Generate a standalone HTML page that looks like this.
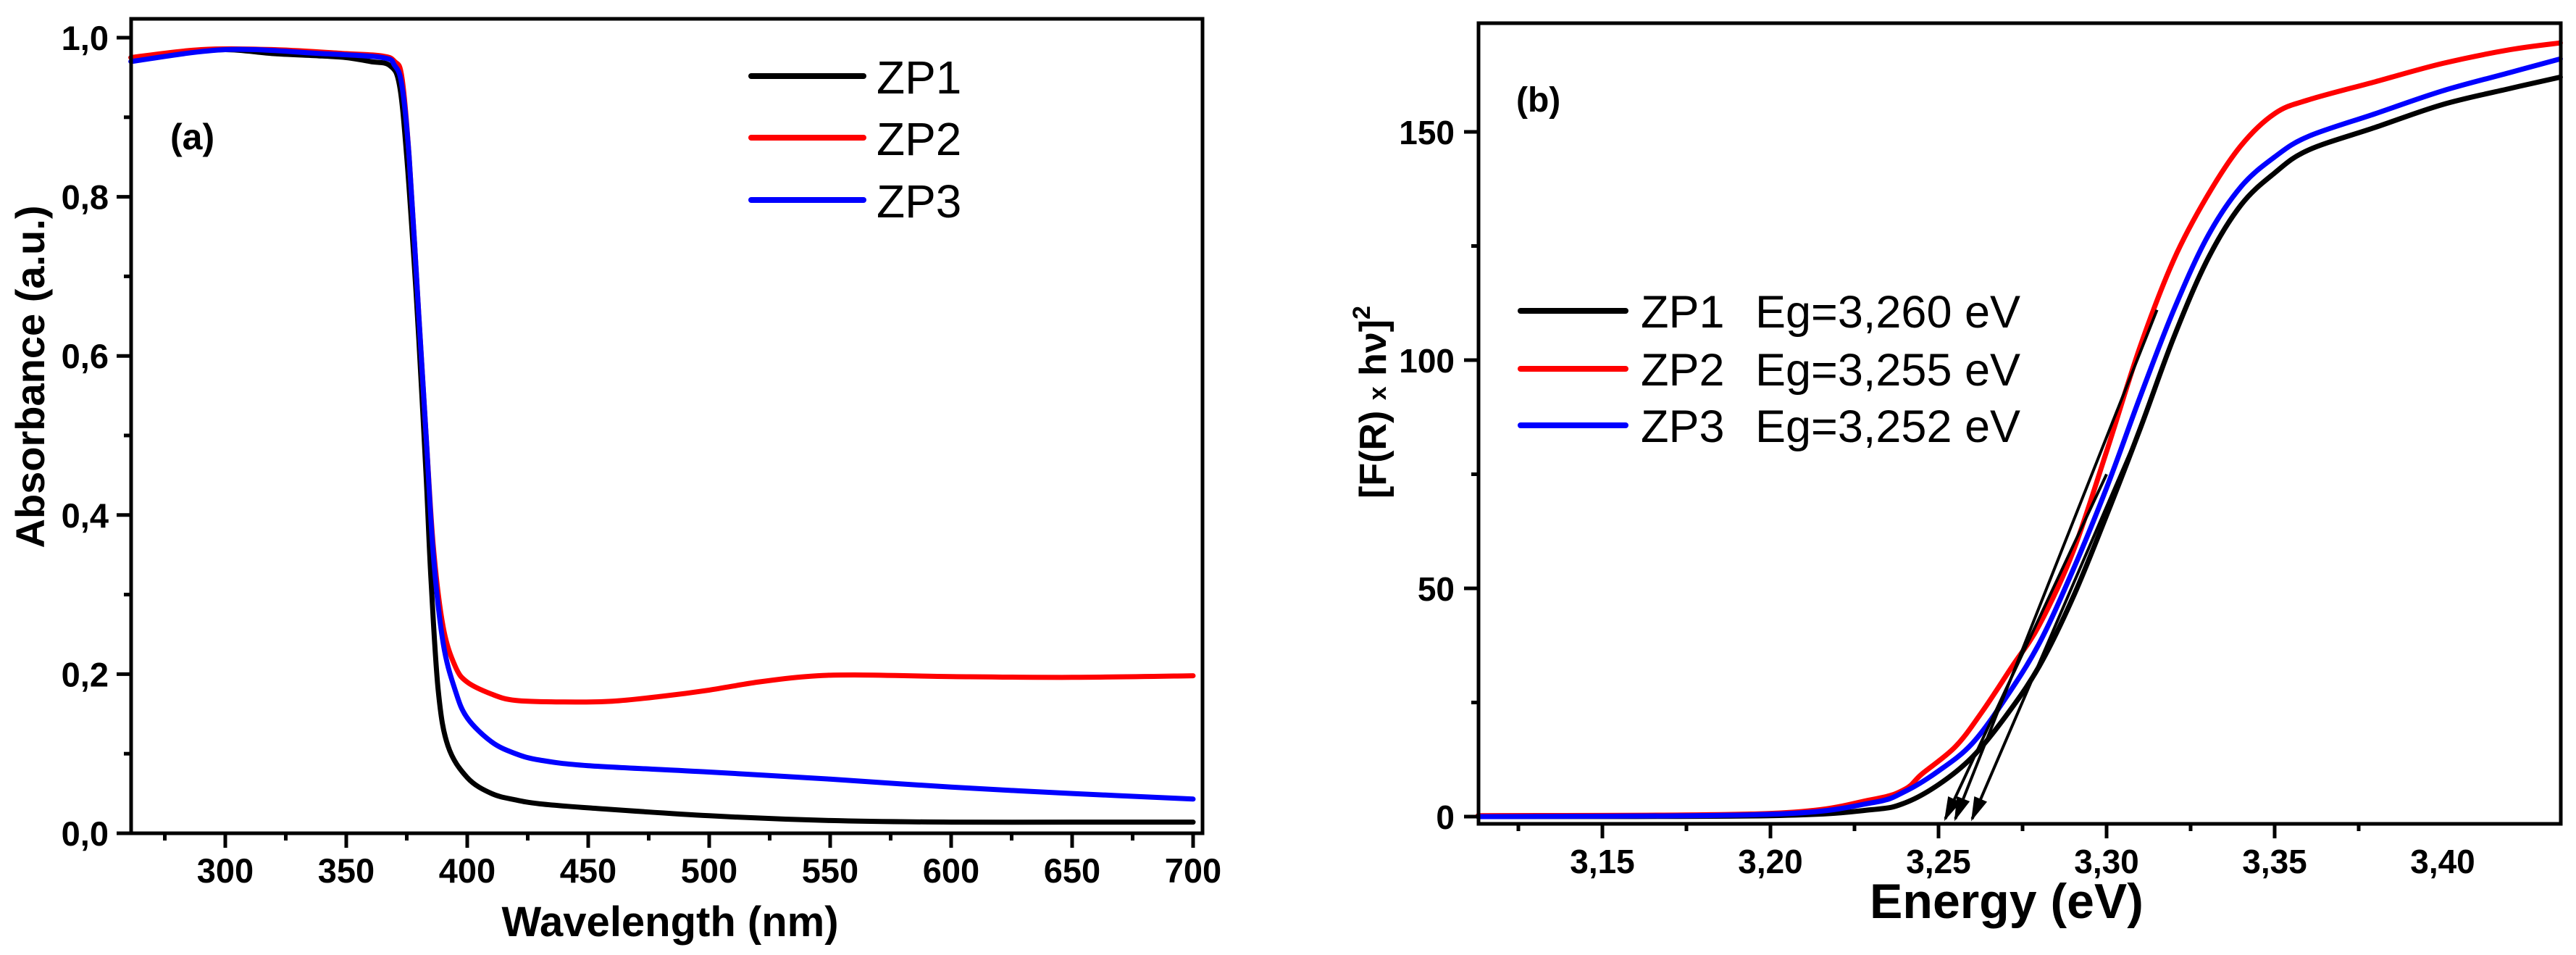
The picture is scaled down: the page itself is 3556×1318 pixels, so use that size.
<!DOCTYPE html>
<html><head><meta charset="utf-8"><style>
html,body{margin:0;padding:0;background:#fff;}
svg{display:block;font-family:"Liberation Sans",Arial,sans-serif;}
</style></head><body>
<svg id="fig" width="3556" height="1318" viewBox="0 0 3556 1318" xmlns="http://www.w3.org/2000/svg">
<g id="pa"></g>
<g id="pb"></g>
</svg>
<script>
// ---------- Panel (a) data ----------
const aSeriesNames = ["ZP1","ZP2","ZP3"];
const aColors = ["#000000","#ff0000","#0000ff"];
const aZP1x = [261,280,300,320,340,350,360,368,372,375,378,380,383,385,388,392,400,410,420,430,450,500,550,600,650,700];
const aZP1y = [0.975,0.98,0.985,0.98,0.977,0.975,0.97,0.965,0.94,0.85,0.72,0.62,0.45,0.32,0.18,0.11,0.07,0.05,0.042,0.037,0.032,0.022,0.016,0.014,0.014,0.014];
const aZP2x = [261,290,320,350,365,370,373,376,380,383,386,390,395,400,410,420,440,460,480,500,520,540,560,600,650,700];
const aZP2y = [0.975,0.985,0.985,0.98,0.977,0.97,0.95,0.85,0.65,0.5,0.36,0.26,0.21,0.19,0.175,0.167,0.165,0.166,0.172,0.18,0.19,0.197,0.199,0.197,0.196,0.198];
const aZP3x = [261,300,340,365,370,373,376,380,383,386,390,395,400,410,420,430,450,500,550,600,650,700];
const aZP3y = [0.97,0.985,0.98,0.975,0.965,0.94,0.85,0.65,0.5,0.35,0.24,0.18,0.145,0.115,0.1,0.092,0.085,0.077,0.068,0.058,0.05,0.043];
const aXTicks = [300,350,400,450,500,550,600,650,700];
const aXTickLabels = ["300","350","400","450","500","550","600","650","700"];
const aYTicks = [0,0.2,0.4,0.6,0.8,1.0];
const aYTickLabels = ["0,0","0,2","0,4","0,6","0,8","1,0"];

// ---------- Panel (b) data ----------
const bSeriesLabels = ["ZP1  Eg=3,260 eV","ZP2  Eg=3,255 eV","ZP3  Eg=3,252 eV"];
const bColors = ["#000000","#ff0000","#0000ff"];
const bZP1x = [3.113,3.20,3.23,3.24,3.25,3.26,3.27,3.28,3.29,3.30,3.31,3.32,3.33,3.34,3.35,3.36,3.38,3.40,3.42,3.435];
const bZP1y = [0,0.2,1.5,3,7,13,22,33,48,66,85,105,122,134,141,146,151,156,159.5,162];
const bZP2x = [3.113,3.20,3.23,3.24,3.245,3.255,3.263,3.272,3.28,3.29,3.30,3.31,3.32,3.33,3.34,3.35,3.36,3.38,3.40,3.42,3.435];
const bZP2y = [0.2,0.7,3.7,6,9.3,15.3,23,33,42,58,80,103,122,136,147,154,157,161,165,168,169.5];
const bZP3x = [3.113,3.20,3.23,3.24,3.25,3.26,3.27,3.28,3.29,3.30,3.31,3.32,3.33,3.34,3.35,3.36,3.38,3.40,3.42,3.435];
const bZP3y = [0,0.5,3,5.5,10,16,26,38,54,72,92,111,127,138,144.5,149,154,159,163,166];
const bEg = [3.260,3.255,3.252];
const bTangentTopX = [3.31,3.315,3.30];
const bTangentTopY = [85,111,75];
const bXTicks = [3.15,3.20,3.25,3.30,3.35,3.40];
const bXTickLabels = ["3,15","3,20","3,25","3,30","3,35","3,40"];
const bYTicks = [0,50,100,150];
const bYTickLabels = ["0","50","100","150"];

const NS="http://www.w3.org/2000/svg";
function mk(parent,tag,attrs,text){const e=document.createElementNS(NS,tag);for(const k in attrs)e.setAttribute(k,attrs[k]);if(text!==undefined)e.textContent=text;parent.appendChild(e);return e;}
function smoothPath(pts){
  let d='M'+pts[0][0].toFixed(1)+','+pts[0][1].toFixed(1);
  for(let i=0;i<pts.length-1;i++){
    const p0=pts[Math.max(0,i-1)],p1=pts[i],p2=pts[i+1],p3=pts[Math.min(pts.length-1,i+2)];
    const c1=[p1[0]+(p2[0]-p0[0])/6,p1[1]+(p2[1]-p0[1])/6];
    const c2=[p2[0]-(p3[0]-p1[0])/6,p2[1]-(p3[1]-p1[1])/6];
    d+=` C${c1[0].toFixed(1)},${c1[1].toFixed(1)} ${c2[0].toFixed(1)},${c2[1].toFixed(1)} ${p2[0].toFixed(1)},${p2[1].toFixed(1)}`;
  }
  return d;
}

// ----- Panel a axes -----
const aX=v=>311+(v-300)*167/50;
const aY=v=>1150-v*1098;
const pa=document.getElementById('pa');
function drawPanelA(){
  const series=[[aZP1x,aZP1y],[aZP2x,aZP2y],[aZP3x,aZP3y]];
  series.forEach((s,i)=>{
    const pts=s[0].map((x,j)=>[aX(x),aY(s[1][j])]);
    const p=mk(pa,'path',{d:smoothPath(pts),fill:'none',stroke:aColors[i],'stroke-width':7,'stroke-linejoin':'round','stroke-linecap':'round'});
    
    
  });
  const fr=mk(pa,'rect',{x:181,y:26,width:1479,height:1124,fill:'none',stroke:'#000','stroke-width':5});
  
  
  for(let v=275;v<=700;v+=25){
    const major=(v%50===0);
    const t=mk(pa,'line',{x1:aX(v),x2:aX(v),y1:1150,y2:major?1170:1160,stroke:'#000','stroke-width':5});
    
    
  }
  aXTicks.forEach((v,i)=>{
    const t=mk(pa,'text',{x:aX(v),y:1218,'font-size':47,'font-weight':'bold','text-anchor':'middle'},aXTickLabels[i]);
    
    
  });
  for(let k=0;k<=10;k++){
    const v=k/10, major=(k%2===0);
    const t=mk(pa,'line',{x1:major?161:171,x2:181,y1:aY(v),y2:aY(v),stroke:'#000','stroke-width':5});
    
    
  }
  aYTicks.forEach((v,i)=>{
    const t=mk(pa,'text',{x:150,y:aY(v)+17,'font-size':47,'font-weight':'bold','text-anchor':'end'},aYTickLabels[i]);
    
    
  });
  const xt=mk(pa,'text',{x:925,y:1292,'font-size':58,'font-weight':'bold','text-anchor':'middle'},'Wavelength (nm)');
  
  
  const yt=mk(pa,'text',{x:0,y:0,'font-size':56,'font-weight':'bold','text-anchor':'middle',transform:'translate(61,520) rotate(-90)'},'Absorbance (a.u.)');
  
  
  const lb=mk(pa,'text',{x:235,y:206,'font-size':50,'font-weight':'bold'},'(a)');
  
  
  const ly=[105,190,276];
  aSeriesNames.forEach((n,i)=>{
    const g=mk(pa,'g',{});
    
    
    mk(g,'line',{x1:1037,x2:1192,y1:ly[i],y2:ly[i],stroke:aColors[i],'stroke-width':8,'stroke-linecap':'round'});
    mk(g,'text',{x:1210,y:ly[i]+24,'font-size':64},n);
  });
}
drawPanelA();

// ----- Panel b axes -----
const bX=v=>2444+(v-3.20)*232/0.05;
const bY=v=>1127-v*6.3;
const pb=document.getElementById('pb');
function drawPanelB(){
  const series=[[bZP1x,bZP1y],[bZP2x,bZP2y],[bZP3x,bZP3y]];
  [0,1,2].forEach(i=>{
    const s=series[i];
    const pts=s[0].map((x,j)=>[bX(x),bY(s[1][j])]);
    const p=mk(pb,'path',{d:smoothPath(pts),fill:'none',stroke:bColors[i],'stroke-width':7,'stroke-linejoin':'round','stroke-linecap':'round'});
    
    
  });
  bEg.forEach((eg,i)=>{
    const x0=bX(eg), y0=bY(-0.5), x1=bX(bTangentTopX[i]), y1=bY(bTangentTopY[i]);
    const g=mk(pb,'g',{});
    
    
    mk(g,'line',{x1:x1,y1:y1,x2:x0,y2:y0,stroke:'#000','stroke-width':4});
    const ang=Math.atan2(y0-y1,x0-x1), L=30, w=0.28;
    const p1=[x0-L*Math.cos(ang-w),y0-L*Math.sin(ang-w)], p2=[x0-L*Math.cos(ang+w),y0-L*Math.sin(ang+w)];
    mk(g,'path',{d:`M${p1[0]},${p1[1]} L${x0},${y0} L${p2[0]},${p2[1]} Z`,fill:'#000',stroke:'#000','stroke-width':2});
  });
  const fr=mk(pb,'rect',{x:2041,y:32,width:1494,height:1105,fill:'none',stroke:'#000','stroke-width':5});
  
  
  for(let k=0;k<11;k++){
    const v=3.125+k*0.025, major=(k%2===1);
    const t=mk(pb,'line',{x1:bX(v),x2:bX(v),y1:1137,y2:major?1157:1147,stroke:'#000','stroke-width':5});
    
    
  }
  bXTicks.forEach((v,i)=>{
    const t=mk(pb,'text',{x:bX(v),y:1205,'font-size':46,'font-weight':'bold','text-anchor':'middle'},bXTickLabels[i]);
    
    
  });
  for(let v=0;v<=150;v+=25){
    const major=(v%50===0);
    const t=mk(pb,'line',{x1:major?2021:2031,x2:2041,y1:bY(v),y2:bY(v),stroke:'#000','stroke-width':5});
    
    
  }
  bYTicks.forEach((v,i)=>{
    const t=mk(pb,'text',{x:2008,y:bY(v)+17,'font-size':46,'font-weight':'bold','text-anchor':'end'},bYTickLabels[i]);
    
    
  });
  const xt=mk(pb,'text',{x:2770,y:1267,'font-size':68,'font-weight':'bold','text-anchor':'middle'},'Energy (eV)');
  
  
  const yt=mk(pb,'text',{x:0,y:0,'font-size':52,'font-weight':'bold','text-anchor':'middle',transform:'translate(1913,555) rotate(-90)'});
  
  
  yt.innerHTML='[F(R) <tspan font-size="34">x</tspan> hν]<tspan font-size="34" dy="-22">2</tspan>';
  const lb=mk(pb,'text',{x:2093,y:154,'font-size':48,'font-weight':'bold'},'(b)');
  
  
  const ly=[429,509,587];
  bSeriesLabels.forEach((n,i)=>{
    const g=mk(pb,'g',{});
    
    
    mk(g,'line',{x1:2099,x2:2244,y1:ly[i],y2:ly[i],stroke:bColors[i],'stroke-width':8,'stroke-linecap':'round'});
    const parts=n.split('  ');
    mk(g,'text',{x:2265,y:ly[i]+23,'font-size':63},parts[0]);
    mk(g,'text',{x:2423,y:ly[i]+23,'font-size':63},parts[1]);
  });
}
drawPanelB();
</script>
</body></html>
